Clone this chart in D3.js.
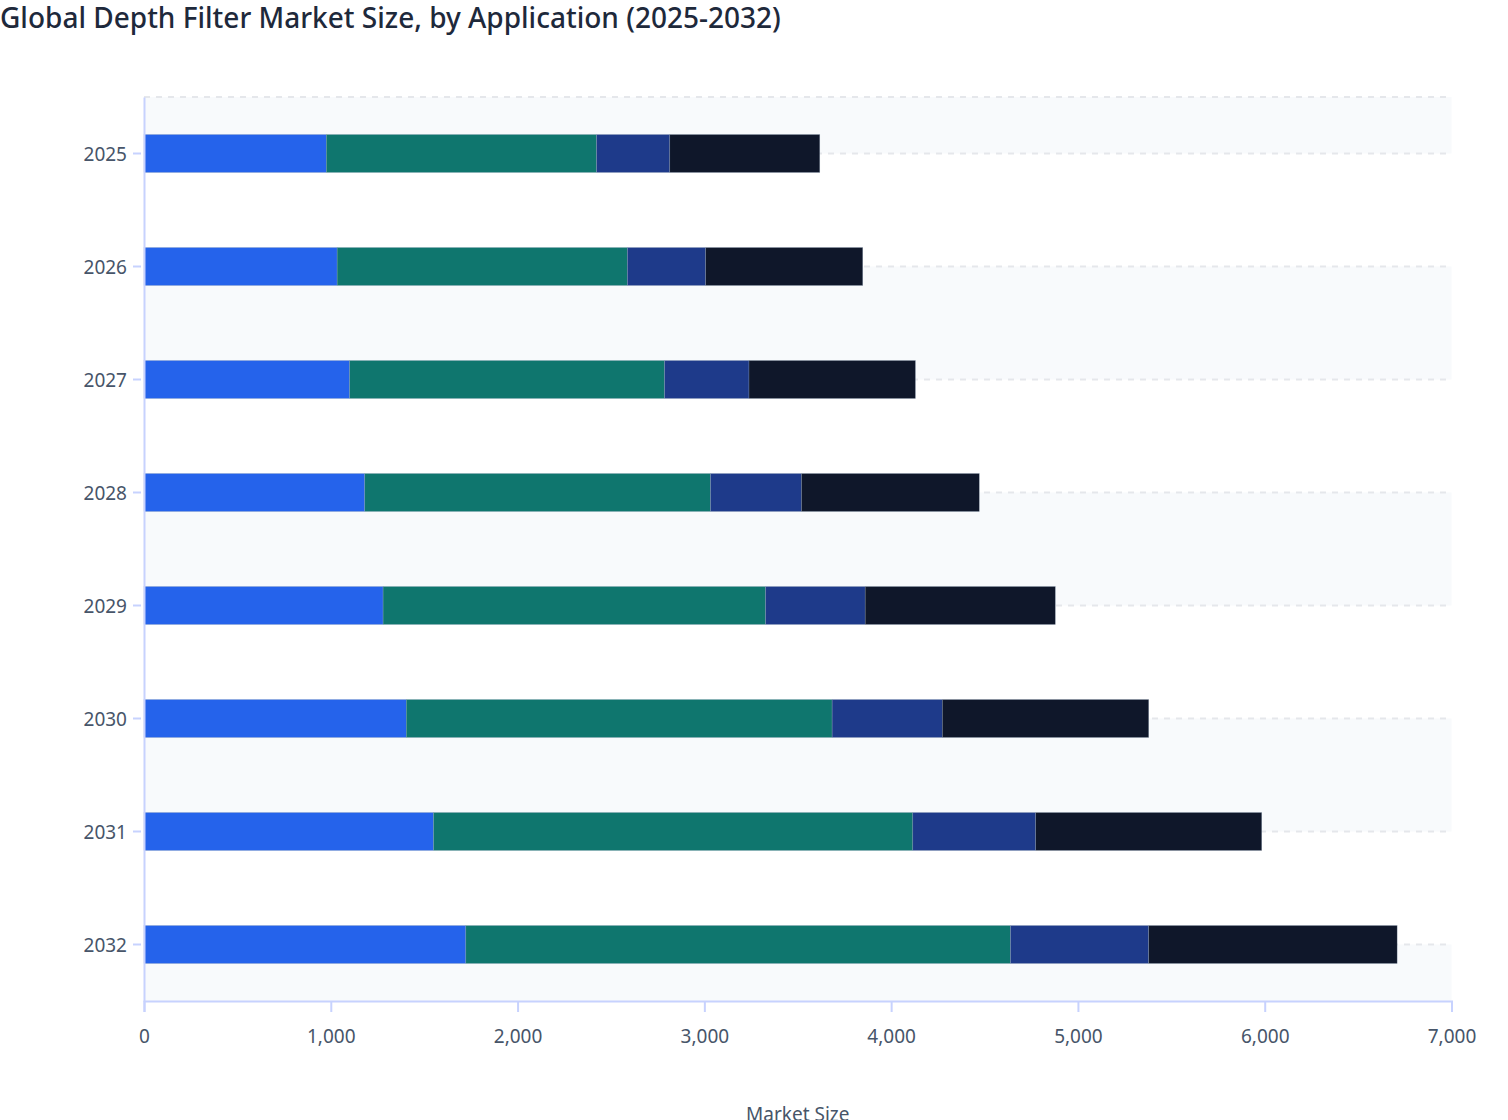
<!DOCTYPE html>
<html>
<head>
<meta charset="utf-8">
<script src="https://cdn.jsdelivr.net/npm/d3@7/dist/d3.min.js"></script>
<style>
  html, body { margin: 0; padding: 0; background: #ffffff; }
  svg { display: block; }
  text { font-family: "Noto Sans", "Open Sans", sans-serif; }
</style>
</head>
<body>
<svg id="chart" width="1508" height="1120"></svg>
<script>
const years = ["2025", "2026", "2027", "2028", "2029", "2030", "2031", "2032"];
const seriesNames = ["Application A", "Application B", "Application C", "Application D"];
const seriesA = [976, 1034, 1101, 1182, 1280, 1404, 1550, 1723];
const seriesB = [1447, 1554, 1686, 1851, 2048, 2280, 2566, 2916];
const seriesC = [392, 419, 452, 487, 533, 590, 658, 740];
const seriesD = [803, 841, 891, 952, 1018, 1105, 1210, 1330];
const xTicks = [0, 1000, 2000, 3000, 4000, 5000, 6000, 7000];
const colors = ["#2563eb", "#0f766e", "#1e3a8a", "#0f172a"];

(function () {
const svg = d3.select("#chart");
const mLeft = 144, mRight = 1451.5, mTop = 97, mBottom = 1001;

const x = d3.scaleLinear().domain([0, 7000]).range([mLeft, mRight]);
const y = d3.scaleBand().domain(years).range([mTop, mBottom]);
const bw = y.bandwidth();
const centers = years.map(d => y(d) + bw / 2);

// shaded split areas
const edges = [mTop, ...centers, mBottom];
const g0 = svg.append("g");
for (let i = 0; i < edges.length - 1; i++) {
  if (i % 2 === 0) {
    g0.append("rect")
      .attr("x", mLeft).attr("y", edges[i])
      .attr("width", mRight - mLeft).attr("height", edges[i + 1] - edges[i])
      .attr("fill", "#f8fafc");
  }
}

// dashed grid lines
const gridYs = [mTop, ...centers];
svg.append("g").selectAll("line").data(gridYs).join("line")
  .attr("x1", mLeft).attr("x2", mRight - 4)
  .attr("y1", d => d).attr("y2", d => d)
  .attr("stroke", "#e5e7eb").attr("stroke-width", 2)
  .attr("stroke-dasharray", "6,6");

// stacked bars
const table = years.map((yr, i) => ({
  year: yr,
  s0: seriesA[i], s1: seriesB[i], s2: seriesC[i], s3: seriesD[i]
}));
const stacked = d3.stack().keys(["s0", "s1", "s2", "s3"])(table);
const barH = 38;

svg.append("g").selectAll("g").data(stacked).join("g")
  .attr("fill", (d, i) => colors[i])
  .selectAll("rect").data(d => d).join("rect")
  .attr("x", d => x(d[0]))
  .attr("width", d => x(d[1]) - x(d[0]))
  .attr("y", d => y(d.data.year) + bw / 2 - barH / 2)
  .attr("height", barH)
  .attr("stroke", "rgba(148,163,184,0.6)")
  .attr("stroke-width", 0.5);

// axes
const axisColor = "#c7d2fe";
const labelColor = "#475569";
const fontFam = '"Noto Sans", "Open Sans", sans-serif';

const xAxis = svg.append("g")
  .attr("transform", `translate(0,${mBottom})`)
  .call(d3.axisBottom(x).tickValues(xTicks).tickSize(11).tickPadding(18).tickFormat(d3.format(",")));
xAxis.select(".domain").attr("stroke", axisColor).attr("stroke-width", 2);
xAxis.selectAll(".tick line").attr("stroke", axisColor).attr("stroke-width", 2);
xAxis.selectAll(".tick text").attr("fill", labelColor).attr("font-size", 19)
  .style("font-family", fontFam);

const yAxis = svg.append("g")
  .attr("transform", `translate(${mLeft},0)`)
  .call(d3.axisLeft(y).tickSize(10).tickPadding(7).tickSizeOuter(0));
yAxis.select(".domain").attr("stroke", axisColor).attr("stroke-width", 2);
yAxis.selectAll(".tick line").attr("stroke", axisColor).attr("stroke-width", 2).attr("x2", -11).attr("x1", -3);
yAxis.selectAll(".tick text").attr("fill", labelColor).attr("font-size", 19)
  .attr("dy", "0.42em")
  .style("font-family", fontFam);

// axis title
svg.append("text")
  .attr("x", (mLeft + mRight) / 2).attr("y", 1121)
  .attr("text-anchor", "middle")
  .attr("fill", labelColor).attr("font-size", 19)
  .text("Market Size");

// title
svg.append("text")
  .attr("x", 0).attr("y", 28)
  .attr("fill", "#1e293b").attr("font-size", 28).attr("font-weight", 500)
  .text("Global Depth Filter Market Size, by Application (2025-2032)");
})();
</script>
</body>
</html>
